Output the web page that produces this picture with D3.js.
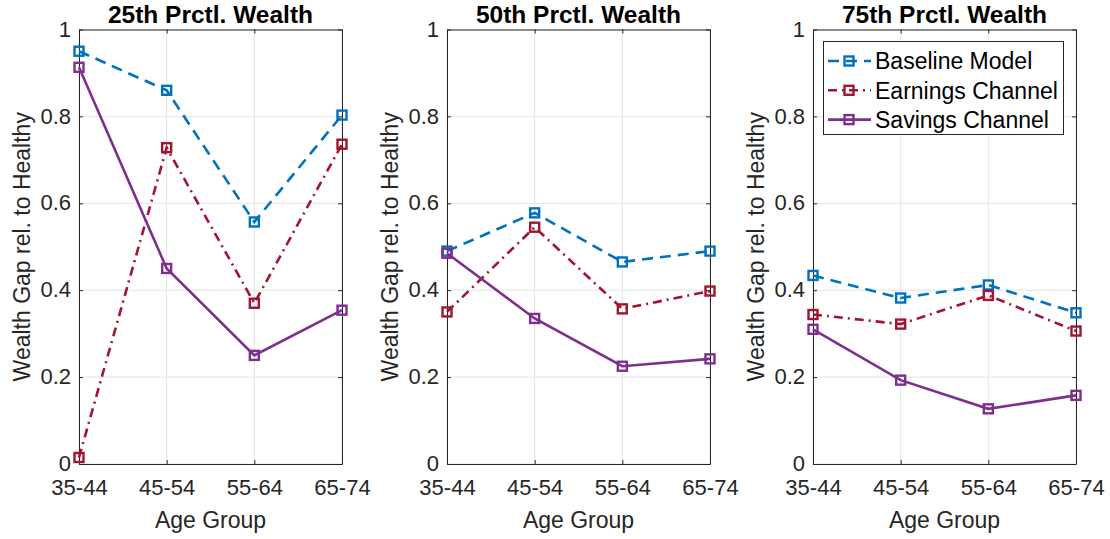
<!DOCTYPE html>
<html>
<head>
<meta charset="utf-8">
<script src="https://cdn.jsdelivr.net/npm/d3@7"></script>
<style>
  body { margin: 0; background: #fff; }
  svg text { font-family: "Liberation Sans", Arial, Helvetica, sans-serif; }
</style>
</head>
<body>
<div id="chart"></div>
<script>
const width = 1110;
const height = 539;

// data
const ageGroups = ['35-44', '45-54', '55-64', '65-74'];
const panelTitles = ['25th Prctl. Wealth', '50th Prctl. Wealth', '75th Prctl. Wealth'];
const yTicks = [0, 0.2, 0.4, 0.6, 0.8, 1];

const baselineModel = [
    [0.950, 0.860, 0.557, 0.803],
    [0.490, 0.578, 0.465, 0.490],
    [0.434, 0.382, 0.412, 0.348]
];
const earningsChannel = [
    [0.015, 0.728, 0.370, 0.736],
    [0.350, 0.545, 0.357, 0.398],
    [0.344, 0.322, 0.388, 0.306]
];
const savingsChannel = [
    [0.913, 0.450, 0.250, 0.354],
    [0.485, 0.335, 0.225, 0.242],
    [0.310, 0.193, 0.127, 0.158]
];

const seriesNames = ['Baseline Model', 'Earnings Channel', 'Savings Channel'];
const seriesValues = [baselineModel, earningsChannel, savingsChannel];
const seriesColors = ['#0072BD', '#A2142F', '#7E2F8E'];
const seriesDash = ['11,7', '9,5,2,5', null];

const axisColor = '#262626';
const gridColor = '#e3e3e3';
const panelLeft = [79, 447, 813];
const panelWidth = 263;
const plotTop = 29.5;
const plotBottom = 464;

const svg = d3.select('#chart')
    .append('svg')
    .attr('width', width)
    .attr('height', height);

const y = d3.scaleLinear().domain([0, 1]).range([plotBottom, plotTop]);

panelTitles.forEach((title, p) => {
    const x = d3.scalePoint()
        .domain(ageGroups)
        .range([panelLeft[p], panelLeft[p] + panelWidth])
        .padding(0);

    const g = svg.append('g');

    // grid
    g.selectAll('.vgrid')
        .data(ageGroups)
        .enter()
        .append('line')
        .attr('x1', d => x(d))
        .attr('x2', d => x(d))
        .attr('y1', plotTop)
        .attr('y2', plotBottom)
        .attr('stroke', gridColor)
        .attr('stroke-width', 1);

    g.selectAll('.hgrid')
        .data(yTicks)
        .enter()
        .append('line')
        .attr('x1', panelLeft[p])
        .attr('x2', panelLeft[p] + panelWidth)
        .attr('y1', d => y(d))
        .attr('y2', d => y(d))
        .attr('stroke', gridColor)
        .attr('stroke-width', 1);

    // axes
    const xAxis = d3.axisBottom(x).tickSizeInner(-4).tickSizeOuter(0).tickPadding(15);
    const xAxisTop = d3.axisTop(x).tickSizeInner(-4).tickSizeOuter(0).tickFormat('');
    const yAxis = d3.axisLeft(y).tickValues(yTicks).tickFormat(d3.format('')).tickSizeInner(-4).tickSizeOuter(0).tickPadding(8);
    const yAxisRight = d3.axisRight(y).tickValues(yTicks).tickFormat('').tickSizeInner(-4).tickSizeOuter(0);

    const gx = g.append('g').attr('transform', `translate(0,${plotBottom})`).call(xAxis);
    const gxt = g.append('g').attr('transform', `translate(0,${plotTop})`).call(xAxisTop);
    const gy = g.append('g').attr('transform', `translate(${panelLeft[p]},0)`).call(yAxis);
    const gyr = g.append('g').attr('transform', `translate(${panelLeft[p] + panelWidth},0)`).call(yAxisRight);

    [gx, gxt, gy, gyr].forEach(a => {
        a.select('.domain').attr('stroke', axisColor).attr('stroke-width', 1);
        a.selectAll('.tick line').attr('stroke', axisColor);
        a.selectAll('.tick text')
            .attr('fill', axisColor)
            .style('font-size', '22px')
            .style('font-family', '"Liberation Sans", Arial, sans-serif');
    });
    gy.selectAll('.tick text').attr('dy', '0.3em');
    gx.selectAll('.tick text').attr('dy', '0.71em');

    // titles and labels
    g.append('text')
        .attr('x', panelLeft[p] + panelWidth / 2)
        .attr('y', 23)
        .attr('text-anchor', 'middle')
        .style('font-size', '24.5px')
        .style('font-weight', 'bold')
        .attr('fill', '#000')
        .text(title);

    g.append('text')
        .attr('x', panelLeft[p] + panelWidth / 2)
        .attr('y', 528)
        .attr('text-anchor', 'middle')
        .style('font-size', '23px')
        .attr('fill', axisColor)
        .text('Age Group');

    g.append('text')
        .attr('transform', `translate(${panelLeft[p] - 49},${(plotTop + plotBottom) / 2}) rotate(-90)`)
        .attr('text-anchor', 'middle')
        .style('font-size', '23px')
        .attr('fill', axisColor)
        .text('Wealth Gap rel. to Healthy');

    // series
    const line = d3.line()
        .x((d, i) => x(ageGroups[i]))
        .y(d => y(d));

    seriesValues.forEach((vals, s) => {
        g.append('path')
            .datum(vals[p])
            .attr('d', line)
            .attr('fill', 'none')
            .attr('stroke', seriesColors[s])
            .attr('stroke-width', 2.6)
            .attr('stroke-dasharray', seriesDash[s]);

        g.selectAll('.mk' + s)
            .data(vals[p])
            .enter()
            .append('rect')
            .attr('x', (d, i) => x(ageGroups[i]) - 4.5)
            .attr('y', d => y(d) - 4.5)
            .attr('width', 9)
            .attr('height', 9)
            .attr('fill', 'none')
            .attr('stroke', seriesColors[s])
            .attr('stroke-width', 2.4);
    });
});

// legend in the third panel
const legend = svg.append('g');
legend.append('rect')
    .attr('x', 823.5)
    .attr('y', 41.5)
    .attr('width', 240)
    .attr('height', 93)
    .attr('fill', '#fff')
    .attr('stroke', axisColor)
    .attr('stroke-width', 1);

seriesNames.forEach((name, s) => {
    const ly = 61 + s * 29.3;
    legend.append('line')
        .attr('x1', 828)
        .attr('x2', 871)
        .attr('y1', ly)
        .attr('y2', ly)
        .attr('stroke', seriesColors[s])
        .attr('stroke-width', 2.6)
        .attr('stroke-dasharray', seriesDash[s]);
    legend.append('rect')
        .attr('x', 844.5)
        .attr('y', ly - 4.5)
        .attr('width', 9)
        .attr('height', 9)
        .attr('fill', 'none')
        .attr('stroke', seriesColors[s])
        .attr('stroke-width', 2.4);
    legend.append('text')
        .attr('x', 875)
        .attr('y', ly)
        .attr('dy', '0.36em')
        .style('font-size', '23px')
        .attr('fill', '#000')
        .text(name);
});
</script>
</body>
</html>
